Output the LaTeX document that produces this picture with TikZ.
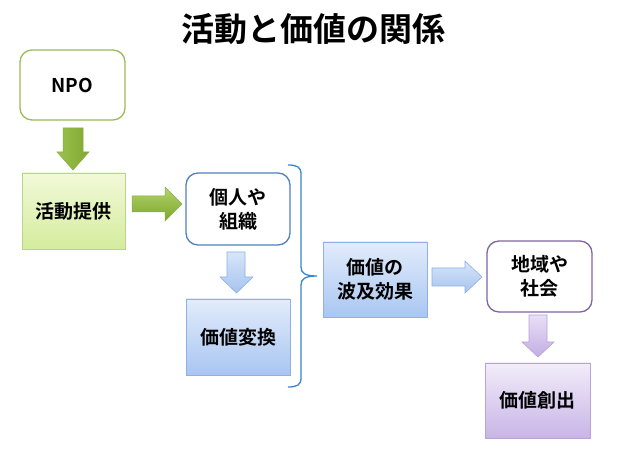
\documentclass[tikz,border=0pt]{standalone}
\usepackage{fontspec}
\setmainfont{Noto Sans CJK JP}[BoldFont={* Bold}]
\usetikzlibrary{shadows}
\definecolor{npoborder}{HTML}{9BBB59}
\definecolor{gtop}{HTML}{F1F9D8}
\definecolor{gbot}{HTML}{D5EC9E}
\definecolor{gborder}{HTML}{B7D68A}
\definecolor{btop}{HTML}{E2ECFB}
\definecolor{bbot}{HTML}{A9C6F2}
\definecolor{bborder}{HTML}{8FB1E2}
\definecolor{ptop}{HTML}{F2ECFA}
\definecolor{pbot}{HTML}{C8B5E6}
\definecolor{pborder}{HTML}{B8A2D8}
\definecolor{blueround}{HTML}{4F81BD}
\definecolor{purpleround}{HTML}{8064A2}
\definecolor{bracecol}{HTML}{3A86CE}
\definecolor{garrowborder}{HTML}{8AAE48}
\definecolor{HTML9CC24A}{HTML}{9CC24A}
\definecolor{HTML7FA832}{HTML}{7FA832}
\definecolor{HTMLB2D468}{HTML}{B2D468}
\definecolor{HTML7DA52E}{HTML}{7DA52E}
\definecolor{HTMLD7E6FA}{HTML}{D7E6FA}
\definecolor{HTMLA6C3EE}{HTML}{A6C3EE}
\definecolor{HTMLE9DFF7}{HTML}{E9DFF7}
\definecolor{HTMLC2ADE2}{HTML}{C2ADE2}
\tikzset{
  lbl/.style={font=\bfseries\fontsize{19}{24}\selectfont, align=center, inner sep=0pt},
  roundbox/.style={lbl, rounded corners=12pt, fill=white, line width=1.3pt},
  gradbox/.style={lbl, line width=0.8pt, drop shadow={shadow xshift=1.2pt, shadow yshift=-1.5pt, opacity=0.25}},
  greenbox/.style={gradbox, draw=gborder, top color=gtop, bottom color=gbot},
  bluebox/.style={gradbox, draw=bborder, top color=btop, bottom color=bbot},
  purplebox/.style={gradbox, draw=pborder, top color=ptop, bottom color=pbot},
  garrow/.style={draw=garrowborder, line width=0.5pt, left color=HTML9CC24A, right color=HTML7FA832},
  garrowh/.style={draw=garrowborder, line width=0.5pt, top color=HTMLB2D468, bottom color=HTML7DA52E},
  barrow/.style={draw=bborder, line width=0.6pt, top color=HTMLD7E6FA, bottom color=HTMLA6C3EE},
  parrow/.style={draw=pborder, line width=0.6pt, top color=HTMLE9DFF7, bottom color=HTMLC2ADE2},
  bracestyle/.style={draw=bracecol, line width=1.3pt}
}
\begin{document}
\begin{tikzpicture}[x=1pt,y=1pt]
\useasboundingbox[fill=white] (0,0) rectangle (620,465);
\node[font=\bfseries\fontsize{33}{38}\selectfont, inner sep=0pt] (title) at (313,436) {活動と価値の関係};
% boxes
\node[roundbox, draw=npoborder, minimum width=105pt, minimum height=70pt] (npo) at (72.5,380) {NPO};
\node[greenbox, minimum width=103pt, minimum height=76pt] (act) at (73.5,254) {活動提供};
\node[roundbox, draw=blueround, minimum width=104pt, minimum height=72pt] (ind) at (238,256) {個人や\\組織};
\node[bluebox, minimum width=104pt, minimum height=76pt] (conv) at (238,128) {価値変換};
\node[bluebox, minimum width=104pt, minimum height=75pt] (ripple) at (375,185.5) {価値の\\波及効果};
\node[roundbox, draw=purpleround, minimum width=105pt, minimum height=71pt] (soc) at (539.5,188.5) {地域や\\社会};
\node[purplebox, minimum width=105pt, minimum height=75pt] (create) at (537.5,64.5) {価値創出};
% block arrows
\path[garrow] (63,337) -- (83,337) -- (83,313) -- (89,313) -- (73,295) -- (57,313) -- (63,313) -- cycle;
\path[garrowh] (132,269) -- (165,269) -- (165,278) -- (182,261) -- (165,244) -- (165,253) -- (132,253) -- cycle;
\path[barrow] (227,213) -- (245,213) -- (245,188) -- (253,188) -- (236.5,172) -- (220,188) -- (227,188) -- cycle;
\path[barrow] (432,197) -- (465,197) -- (465,204) -- (482,188) -- (465,172) -- (465,179) -- (432,179) -- cycle;
\path[parrow] (529,150) -- (547,150) -- (547,123) -- (554,123) -- (538,108) -- (522,123) -- (529,123) -- cycle;
% brace
\path[bracestyle] (288,300) .. controls (297,300) and (301,298) .. (301,291) -- (301,198) .. controls (301,192) and (305,189) .. (317,189) .. controls (305,189) and (301,186) .. (301,180) -- (301,87) .. controls (301,80) and (297,78) .. (288,78);
\end{tikzpicture}
\end{document}
